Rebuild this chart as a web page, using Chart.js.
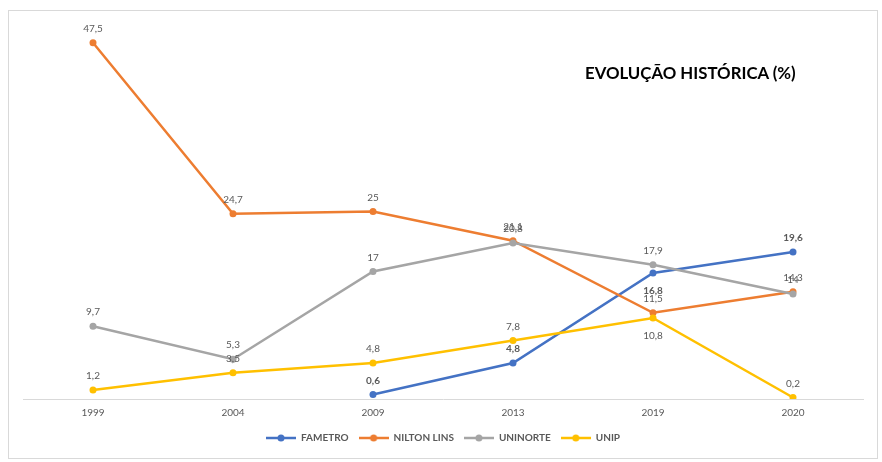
<!DOCTYPE html>
<html>
<head>
<meta charset="utf-8">
<script src="https://cdn.jsdelivr.net/npm/chart.js@4"></script>
<style>
  html, body { margin: 0; padding: 0; background: #fff; }
  #wrap { position: relative; width: 882px; height: 462px; }
  #frame { position: absolute; left: 8px; top: 10px; width: 868px; height: 447px; border: 1px solid #d9d9d9; pointer-events: none; }
  #title { position: absolute; left: 585px; top: 62px; font: bold 16.8px Lato, 'Open Sans', sans-serif; color: #000; }
</style>
</head>
<body>
<div id="wrap">
  <canvas id="chart" width="882" height="462"></canvas>
  <div id="frame"></div>
  <div id="title">EVOLUÇÃO HISTÓRICA (%)</div>
</div>
<script>
const years      = ['1999', '2004', '2009', '2013', '2019', '2020'];
const fametro    = [null, null, 0.6, 4.8, 16.8, 19.6];
const niltonLins = [47.5, 24.7, 25, 21.1, 11.5, 14.3];
const uninorte   = [9.7, 5.3, 17, 20.8, 17.9, 14];
const unip       = [1.2, 3.5, 4.8, 7.8, 10.8, 0.2];

// label placement per point: 'a' above, 'b' below
const labelPos = {
  FAMETRO: ['a', 'a', 'a', 'a', 'b', 'a'],
  UNIP:    ['a', 'a', 'a', 'a', 'b', 'a'],
};

const fmt = v => String(v).replace('.', ',');

function legendSwatch(color) {
  const c = document.createElement('canvas');
  c.width = 30; c.height = 10;
  const x = c.getContext('2d');
  x.strokeStyle = color; x.lineWidth = 2.5;
  x.beginPath(); x.moveTo(0, 5); x.lineTo(30, 5); x.stroke();
  x.fillStyle = color;
  x.beginPath(); x.arc(15, 5, 3.5, 0, Math.PI * 2); x.fill();
  return c;
}

const pointLabels = {
  id: 'pointLabels',
  afterDatasetsDraw(chart) {
    const ctx = chart.ctx;
    ctx.save();
    ctx.textAlign = 'center';
    ctx.textBaseline = 'middle';
    chart.data.datasets.forEach((ds, i) => {
      const meta = chart.getDatasetMeta(i);
      const pos = labelPos[ds.label] || [];
      ctx.font = (ds.label === 'FAMETRO' ? 'bold ' : '') + '10px Lato, sans-serif';
      ctx.fillStyle = '#595959';
      meta.data.forEach((pt, j) => {
        const v = ds.data[j];
        if (v == null) return;
        const dy = pos[j] === 'b' ? 18 : -14;
        ctx.fillText(fmt(v), pt.x, pt.y + dy);
      });
    });
    ctx.restore();
  }
};

const series = [
  { label: 'FAMETRO',     data: fametro,    color: '#4472C4' },
  { label: 'NILTON LINS', data: niltonLins, color: '#ED7D31' },
  { label: 'UNINORTE',    data: uninorte,   color: '#A5A5A5' },
  { label: 'UNIP',        data: unip,       color: '#FFC000' },
];

new Chart(document.getElementById('chart'), {
  type: 'line',
  data: {
    labels: years,
    datasets: series.map((s, i) => ({
      label:           s.label,
      data:            s.data,
      borderColor:     s.color,
      backgroundColor: s.color,
      pointBackgroundColor: s.color,
      borderWidth:     2.5,
      pointRadius:     3.5,
      pointBorderWidth: 0,
      tension:         0,
      spanGaps:        false,
      order:           series.length - i,
    }))
  },
  options: {
    responsive: false,
    animation: false,
    layout: { padding: { left: 23, right: 19, top: 24, bottom: 9 } },
    plugins: {
      tooltip: { enabled: false },
      legend: {
        position: 'bottom',
        labels: {
          usePointStyle: true,
          pointStyleWidth: 30,
          padding: 10,
          color: '#595959',
          font: { family: 'Lato', size: 10, weight: 'bold' },
          generateLabels: chart => chart.data.datasets.map((ds, i) => ({
            text: ds.label,
            pointStyle: legendSwatch(ds.borderColor),
            fillStyle: ds.borderColor,
            strokeStyle: ds.borderColor,
            lineWidth: 0,
            hidden: false,
            datasetIndex: i,
            fontColor: '#595959',
          }))
        }
      }
    },
    scales: {
      x: {
        offset: true,
        grid: { display: false, drawTicks: false },
        border: { color: '#d9d9d9', width: 1 },
        ticks: { color: '#595959', font: { family: 'Lato', size: 10 }, padding: 8 },
        afterFit: scale => { scale.height = 24; }
      },
      y: {
        display: false,
        min: 0,
        max: 50
      }
    }
  },
  plugins: [pointLabels]
});
</script>
</body>
</html>
